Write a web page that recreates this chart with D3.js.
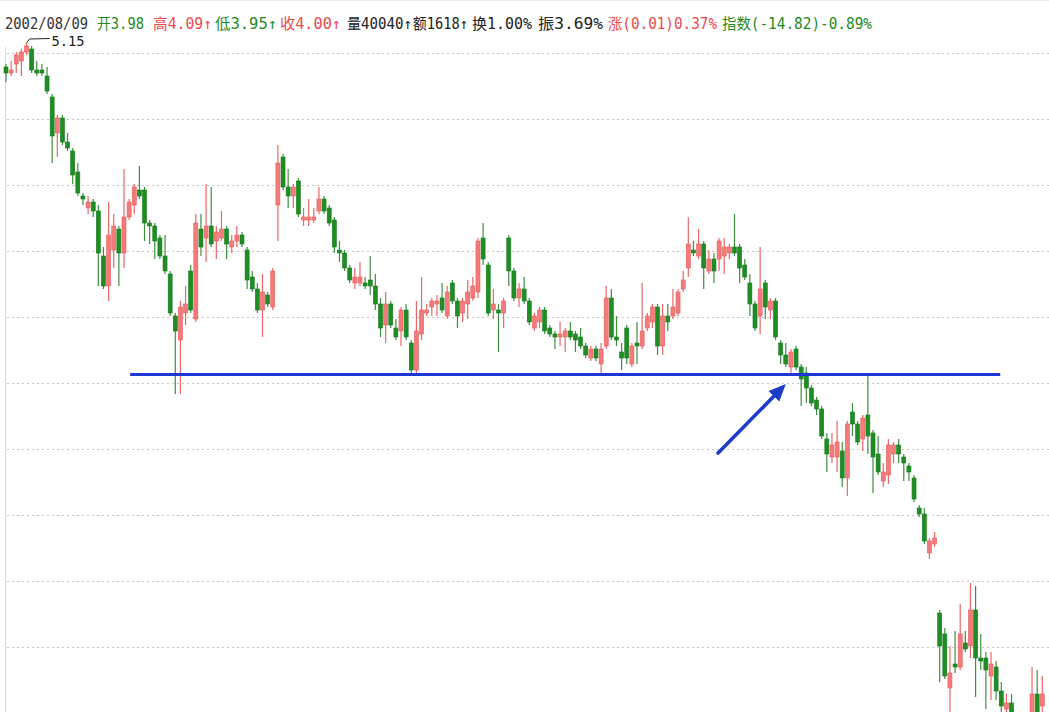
<!DOCTYPE html>
<html>
<head>
<meta charset="utf-8">
<script src="https://cdn.jsdelivr.net/npm/d3@7/dist/d3.min.js"></script>
<style>
  html, body { margin: 0; padding: 0; background: #ffffff; }
  svg { display: block; }
</style>
</head>
<body>
<svg id="chart" width="1049" height="712"></svg>
<script>
// Daily candles (price in yuan), oldest first
const open = [
  5.07,5.05,5.08,5.09,5.12,5.13,5.06,5.06,5.04,4.97,
  4.85,4.90,4.82,4.79,4.72,4.64,4.60,4.62,4.59,4.44,
  4.34,4.46,4.53,4.45,4.57,4.61,4.66,4.66,4.55,4.54,
  4.50,4.44,4.38,4.24,4.16,4.25,4.39,4.23,4.53,4.50,
  4.54,4.49,4.50,4.53,4.47,4.49,4.51,4.46,4.37,4.33,
  4.26,4.31,4.27,4.61,4.77,4.67,4.64,4.69,4.56,4.56,
  4.56,4.59,4.63,4.60,4.56,4.46,4.45,4.40,4.35,4.35,
  4.35,4.36,4.34,4.28,4.21,4.28,4.20,4.19,4.26,4.15,
  4.06,4.18,4.25,4.27,4.28,4.30,4.24,4.35,4.29,4.25,
  4.28,4.30,4.32,4.50,4.41,4.26,4.26,4.25,4.50,4.39,
  4.30,4.33,4.29,4.20,4.22,4.26,4.20,4.18,4.17,4.17,
  4.19,4.18,4.17,4.14,4.10,4.13,4.08,4.14,4.30,4.17,
  4.12,4.20,4.08,4.15,4.14,4.20,4.22,4.27,4.14,4.24,
  4.24,4.25,4.33,4.40,4.46,4.44,4.48,4.39,4.43,4.43,
  4.44,4.45,4.47,4.47,4.41,4.35,4.28,4.24,4.35,4.26,
  4.29,4.15,4.11,4.07,4.13,4.07,4.05,4.00,3.96,3.93,
  3.83,3.77,3.77,3.79,3.70,3.92,3.88,3.83,3.91,3.85,
  3.78,3.69,3.71,3.78,3.81,3.77,3.74,3.70,3.60,3.58,
  3.45,3.48,3.25,3.18,3.00,3.08,3.07,3.15,3.14,3.26,
  3.10,3.10,3.04,3.07,2.99,2.93,2.95,2.88,2.85,2.82,
  2.89,2.98,2.94
];
const high = [
  5.08,5.09,5.12,5.13,5.15,5.14,5.09,5.08,5.07,4.98,
  4.91,4.91,4.85,4.80,4.75,4.65,4.64,4.63,4.61,4.47,
  4.62,4.58,4.54,4.73,4.63,4.68,4.74,4.67,4.56,4.55,
  4.51,4.51,4.39,4.25,4.29,4.34,4.41,4.58,4.58,4.68,
  4.67,4.54,4.59,4.54,4.51,4.54,4.52,4.47,4.39,4.35,
  4.38,4.32,4.40,4.81,4.78,4.73,4.68,4.70,4.60,4.63,
  4.60,4.67,4.64,4.61,4.57,4.49,4.46,4.41,4.40,4.42,
  4.37,4.44,4.38,4.30,4.32,4.29,4.23,4.27,4.28,4.16,
  4.29,4.37,4.28,4.30,4.31,4.35,4.34,4.36,4.30,4.30,
  4.36,4.37,4.50,4.55,4.42,4.33,4.28,4.30,4.51,4.40,
  4.35,4.37,4.30,4.25,4.27,4.27,4.21,4.19,4.22,4.20,
  4.22,4.19,4.20,4.15,4.14,4.14,4.15,4.34,4.33,4.24,
  4.15,4.21,4.15,4.22,4.35,4.25,4.28,4.28,4.28,4.28,
  4.33,4.33,4.39,4.57,4.49,4.53,4.49,4.46,4.45,4.50,
  4.50,4.48,4.58,4.48,4.43,4.38,4.29,4.47,4.36,4.30,
  4.30,4.16,4.15,4.13,4.14,4.08,4.07,4.01,3.97,3.94,
  3.85,3.85,3.89,3.82,3.89,3.95,3.89,3.91,4.04,3.86,
  3.84,3.75,3.83,3.82,3.83,3.78,3.75,3.71,3.61,3.60,
  3.50,3.52,3.26,3.20,3.14,3.19,3.28,3.19,3.35,3.34,
  3.18,3.12,3.12,3.09,3.02,2.98,2.98,2.90,2.89,2.88,
  3.07,3.06,3.04
];
const low = [
  5.02,5.04,5.05,5.04,5.11,5.05,5.04,5.04,4.98,4.75,
  4.77,4.81,4.79,4.68,4.64,4.61,4.58,4.57,4.34,4.33,
  4.29,4.40,4.34,4.40,4.56,4.58,4.63,4.49,4.48,4.43,
  4.43,4.38,4.24,3.98,3.98,4.21,4.25,4.22,4.44,4.42,
  4.47,4.43,4.49,4.43,4.45,4.47,4.47,4.33,4.32,4.25,
  4.17,4.27,4.26,4.49,4.66,4.60,4.60,4.57,4.54,4.54,
  4.55,4.58,4.58,4.54,4.45,4.42,4.39,4.35,4.33,4.34,
  4.33,4.31,4.26,4.17,4.15,4.20,4.16,4.14,4.16,4.05,
  4.04,4.16,4.24,4.24,4.24,4.25,4.23,4.28,4.20,4.22,
  4.23,4.29,4.30,4.41,4.24,4.23,4.12,4.20,4.34,4.29,
  4.27,4.28,4.21,4.19,4.20,4.18,4.17,4.13,4.14,4.12,
  4.16,4.12,4.13,4.10,4.09,4.09,4.05,4.13,4.16,4.14,
  4.06,4.08,4.07,4.08,4.13,4.19,4.20,4.11,4.11,4.19,
  4.23,4.24,4.32,4.37,4.44,4.43,4.33,4.38,4.35,4.39,
  4.38,4.43,4.44,4.35,4.36,4.24,4.19,4.18,4.23,4.23,
  4.16,4.08,4.07,4.04,4.06,3.94,3.95,3.94,3.91,3.83,
  3.72,3.75,3.72,3.67,3.64,3.84,3.81,3.79,3.78,3.65,
  3.71,3.67,3.68,3.75,3.75,3.69,3.69,3.62,3.57,3.48,
  3.43,3.47,3.02,3.03,2.91,3.05,3.06,3.12,3.10,2.97,
  3.06,2.93,2.96,2.96,2.91,2.91,2.89,2.82,2.80,2.80,
  2.88,2.88,2.89
];
const close = [
  5.05,5.06,5.11,5.12,5.14,5.06,5.05,5.05,4.99,4.84,
  4.90,4.82,4.80,4.71,4.65,4.63,4.62,4.59,4.45,4.34,
  4.51,4.54,4.45,4.57,4.62,4.67,4.64,4.55,4.54,4.49,
  4.44,4.39,4.25,4.19,4.27,4.28,4.26,4.55,4.47,4.54,
  4.48,4.52,4.53,4.48,4.49,4.51,4.48,4.36,4.33,4.26,
  4.32,4.28,4.39,4.75,4.67,4.64,4.67,4.58,4.57,4.57,
  4.57,4.63,4.59,4.55,4.47,4.45,4.40,4.36,4.37,4.37,
  4.34,4.34,4.28,4.20,4.28,4.21,4.17,4.26,4.17,4.06,
  4.19,4.26,4.26,4.29,4.29,4.26,4.32,4.29,4.24,4.29,
  4.32,4.34,4.49,4.43,4.25,4.28,4.25,4.29,4.39,4.30,
  4.33,4.29,4.22,4.24,4.26,4.19,4.18,4.17,4.18,4.19,
  4.17,4.16,4.14,4.11,4.13,4.10,4.13,4.30,4.17,4.16,
  4.10,4.10,4.14,4.14,4.19,4.24,4.27,4.14,4.24,4.22,
  4.27,4.32,4.36,4.48,4.45,4.48,4.40,4.43,4.39,4.49,
  4.47,4.47,4.45,4.40,4.37,4.28,4.20,4.33,4.27,4.29,
  4.17,4.11,4.08,4.12,4.07,4.03,4.00,3.95,3.93,3.84,
  3.78,3.81,3.82,3.70,3.88,3.88,3.82,3.90,3.84,3.77,
  3.72,3.72,3.81,3.81,3.78,3.75,3.72,3.63,3.58,3.49,
  3.49,3.50,3.14,3.04,3.05,3.07,3.18,3.13,3.26,3.10,
  3.09,3.06,3.08,2.99,2.94,2.95,2.91,2.84,2.82,2.86,
  2.98,2.91,2.98
];

// Price of the highest high in view, shown with a leader label
const peakPrice = 5.15;

// Support level drawn across the range (candle index span, price)
const supportLevel = 4.045;
const supportSpan = [24.2, 193.8];

// Arrow pointing at the break of support: [index, price] tail -> head
const arrowTail = [138.8, 3.783];
const arrowHead = [152.0, 4.013];

// Horizontal dotted grid levels (price)
const gridLevels = [5.117, 4.897, 4.677, 4.457, 4.237, 4.017, 3.797, 3.577, 3.357, 3.137];

// Quote line at the top: [text, colour]
const quoteTexts = [
  "2002/08/09", "开3.98", "高4.09↑", "低3.95↑", "收4.00↑", "量40040↑",
  "额1618↑", "换1.00%", "振3.69%", "涨(0.01)0.37%", "指数(-14.82)-0.89%"
];
const quoteColors = [
  "#333333", "#1f8a22", "#ee4a4a", "#1f8a22", "#ee4a4a", "#222222",
  "#222222", "#222222", "#222222", "#ee4a4a", "#1f8a22"
];
// left edge and width of each segment of the quote line
const quoteLeft  = [5, 97, 153, 215, 280, 347, 413, 472, 538, 608, 722];
const quoteWidth = [83, 47, 59, 62, 61, 65, 55, 60, 65, 109, 150];

const W = 1049, H = 712;
const n = open.length;
const svg = d3.select("#chart");

const x = d3.scaleLinear().domain([0, n - 1]).range([6, 1042.3]);
const y = d3.scaleLinear().domain([2.9, 5.3]).range([718, -2]);
const bodyW = 4.0;

const UP_FILL = "#f47b7b", UP_STROKE = "#e65a5a", UP_WICK = "#ea6767";
const DN_FILL = "#1e8e24", DN_STROKE = "#137a19", DN_WICK = "#3e8e40";

// frame and grid
svg.append("rect").attr("width", W).attr("height", H).attr("fill", "#ffffff");
svg.append("line")
  .attr("x1", 0).attr("x2", W).attr("y1", 0.5).attr("y2", 0.5)
  .attr("stroke", "#ececec");
svg.append("line")
  .attr("x1", 5.5).attr("x2", 5.5).attr("y1", 47).attr("y2", H)
  .attr("stroke", "#d6d6d6");

svg.append("g").selectAll("line").data(gridLevels).join("line")
  .attr("x1", 7).attr("x2", W)
  .attr("y1", d => Math.round(y(d)) + 0.5)
  .attr("y2", d => Math.round(y(d)) + 0.5)
  .attr("stroke", "#c4c4c4")
  .attr("stroke-width", 1)
  .attr("stroke-dasharray", "2,3");

// candles
const candles = d3.range(n).map(i => ({
  i, o: open[i], h: high[i], l: low[i], c: close[i], up: close[i] >= open[i]
}));

const plot = svg.append("g");
plot.selectAll("line.wick").data(candles).join("line")
  .attr("class", "wick")
  .attr("x1", d => x(d.i)).attr("x2", d => x(d.i))
  .attr("y1", d => y(d.h)).attr("y2", d => y(d.l))
  .attr("stroke", d => d.up ? UP_WICK : DN_WICK)
  .attr("stroke-width", 1.2);

plot.selectAll("rect.body").data(candles).join("rect")
  .attr("class", "body")
  .attr("x", d => x(d.i) - bodyW / 2)
  .attr("width", bodyW)
  .attr("y", d => y(Math.max(d.o, d.c)))
  .attr("height", d => Math.max(1, Math.abs(y(d.o) - y(d.c))))
  .attr("fill", d => d.up ? UP_FILL : DN_FILL)
  .attr("stroke", d => d.up ? UP_STROKE : DN_STROKE)
  .attr("stroke-width", 0.6);

// peak label
const peakIdx = high.indexOf(d3.max(high));
const px = x(peakIdx), py = y(high[peakIdx]);
svg.append("path")
  .attr("d", d3.line()([[px, py], [px + 3, py - 4], [px + 23, py - 4.5]]))
  .attr("fill", "none").attr("stroke", "#222").attr("stroke-width", 1);
svg.append("text")
  .attr("x", px + 25).attr("y", py + 3)
  .attr("font-family", "'DejaVu Sans Mono', monospace")
  .attr("font-size", 14)
  .attr("textLength", 33).attr("lengthAdjust", "spacingAndGlyphs")
  .attr("fill", "#222")
  .text(peakPrice.toFixed(2));

// support line
svg.append("line")
  .attr("x1", x(supportSpan[0])).attr("x2", x(supportSpan[1]))
  .attr("y1", y(supportLevel)).attr("y2", y(supportLevel))
  .attr("stroke", "#1f36d6").attr("stroke-width", 3);

// arrow
const ax0 = x(arrowTail[0]), ay0 = y(arrowTail[1]);
const ax1 = x(arrowHead[0]), ay1 = y(arrowHead[1]);
const ang = Math.atan2(ay1 - ay0, ax1 - ax0);
const headLen = 17, headHalf = 7.5;
const bx = ax1 - headLen * Math.cos(ang), by = ay1 - headLen * Math.sin(ang);
svg.append("line")
  .attr("x1", ax0).attr("y1", ay0).attr("x2", bx).attr("y2", by)
  .attr("stroke", "#1d3cc8").attr("stroke-width", 3.6).attr("stroke-linecap", "round");
svg.append("path")
  .attr("d", d3.line()([
    [ax1, ay1],
    [bx + headHalf * Math.sin(ang), by - headHalf * Math.cos(ang)],
    [bx - headHalf * Math.sin(ang), by + headHalf * Math.cos(ang)]
  ]) + "Z")
  .attr("fill", "#1d3cc8");

// quote line
svg.append("g").selectAll("text").data(quoteTexts).join("text")
  .attr("x", (d, i) => quoteLeft[i])
  .attr("y", 29)
  .attr("font-family", "'DejaVu Sans Mono', 'Noto Sans CJK SC', monospace")
  .attr("font-size", 15)
  .attr("textLength", (d, i) => quoteWidth[i])
  .attr("lengthAdjust", "spacingAndGlyphs")
  .attr("fill", (d, i) => quoteColors[i])
  .text(d => d);
</script>
</body>
</html>
